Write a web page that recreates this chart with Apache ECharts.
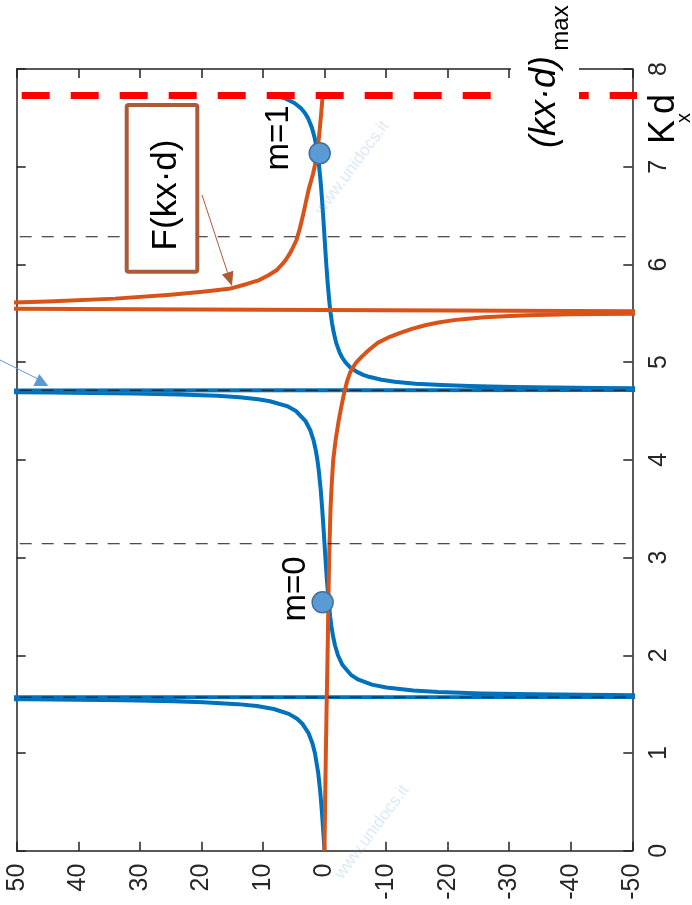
<!DOCTYPE html>
<html><head><meta charset="utf-8">
<script src="https://cdn.jsdelivr.net/npm/echarts@6/dist/echarts.min.js"></script>
<style>html,body{margin:0;padding:0;background:#fff}#c{width:692px;height:905px}</style>
</head><body><div id="c"></div>
<script>
// ---- data ----
// blue curve: tan(kx·d)   (kx·d value, function value)
const blueK = [0,0.2,0.4,0.6,0.8,1.0,1.1,1.2,1.3,1.35,1.4,1.45,1.48,1.5,1.52,1.53,1.54,1.55,1.56,1.565,
  1.577,1.582,1.59,1.6,1.61,1.625,1.64,1.67,1.7,1.75,1.8,1.9,2.0,2.1,2.2,2.3,2.4,2.6,2.8,3.0,3.1416,3.3,3.5,3.7,3.9,4.0,4.1,4.2,4.3,4.4,4.5,4.55,4.6,4.62,4.64,4.655,4.67,4.68,4.69,4.7,4.705,
  4.72,4.725,4.735,4.745,4.755,4.765,4.78,4.8,4.82,4.85,4.87,4.9,4.95,5.0,5.05,5.1,5.2,5.3,5.4,5.5,5.6,5.8,6.0,6.1,6.2832,6.4,6.5,6.6,6.7,6.8,6.9,7.0,7.1,7.2,7.3,7.4,7.5,7.55,7.6,7.65,7.7,7.728];
const blueF = [0,0.203,0.423,0.684,1.03,1.557,1.965,2.572,3.602,4.455,5.798,8.238,10.98,14.1,19.67,24.5,32.5,48.1,92.6,172.5,
  -161,-89.8,-52.1,-34.2,-25.5,-18.5,-14.43,-10.05,-7.7,-5.52,-4.29,-2.93,-2.185,-1.713,-1.374,-1.119,-0.916,-0.602,-0.356,-0.143,0,0.16,0.375,0.625,0.948,1.158,1.423,1.778,2.288,3.109,4.64,6.09,8.86,10.79,13.79,17.4,23.6,30.9,44.6,80.6,135,
  -131.6,-79.4,-44.2,-30.5,-23.5,-19.0,-14.77,-11.39,-9.26,-7.22,-6.29,-5.27,-4.13,-3.38,-2.85,-2.449,-1.887,-1.51,-1.22,-0.996,-0.814,-0.529,-0.291,-0.185,0,0.117,0.22,0.328,0.443,0.568,0.71,0.871,1.065,1.305,1.617,2.049,2.701,3.188,3.852,4.83,6.44,7.89];
// orange curve: F(kx·d)
const orangeK = [0,0.5,1.0,1.5,2.0,2.5,3.0,3.5,3.75,4.0,4.2,4.4,4.55,4.7,4.8,4.9,4.95,5.0,5.05,5.1,5.15,5.2,5.25,5.3,5.34,5.38,5.405,5.43,5.445,5.46,5.47,5.48,5.485,5.49,5.497,5.5,
  5.575,5.6,5.62,5.65,5.69,5.72,5.75,5.8,5.84,5.89,5.94,6.0,6.05,6.1,6.15,6.25,6.37,6.5,6.63,6.76,6.85,6.93,7.03,7.14,7.27,7.4,7.52,7.65,7.728];
const orangeF = [0,-0.1,-0.22,-0.35,-0.5,-0.62,-0.75,-0.98,-1.17,-1.42,-1.8,-2.3,-2.75,-3.25,-3.65,-4.2,-4.65,-5.2,-5.95,-6.8,-7.7,-8.7,-10.3,-12.3,-14.2,-16.5,-18.5,-21,-23.3,-26,-29.2,-33,-36.5,-40,-52,-130,
  160,57,45,34,25,19.8,15.5,12.6,10.6,9.1,7.8,6.9,6.25,5.75,5.3,4.55,4.0,3.5,3.05,2.6,2.2,1.85,1.5,1.2,0.95,0.75,0.57,0.4,0.3];
// reference lines kx·d = π/2, π, 3π/2, 2π
const halfPiK = [1.5708, 3.1416, 4.7124, 6.2832];
// (kx·d)max
const kdMax = 7.728;
const kdMaxSpanF = [50, -51.1];
// solutions (modes)
const modeK = [2.542, 7.138];
const modeF = [0.3, 0.78];
const modeNames = ['m=0', 'm=1'];
// axes
const fRange = [-50, 50], fStep = 10;
const kRange = [0, 8], kStep = 1;

const chart = echarts.init(document.getElementById('c'), null, {renderer: 'canvas'});
const FONT = '"Liberation Sans", Arial, sans-serif';
const AX = '#222';
const pts = (ks, fs) => ks.map((k, i) => [fs[i], k]);

const xBase = {
  type: 'value', min: fRange[0], max: fRange[1], interval: fStep, inverse: true,
  splitLine: {show: false},
  axisLine: {show: true, onZero: false, lineStyle: {color: AX, width: 1.5}},
  axisTick: {show: true, inside: true, length: 9, lineStyle: {color: AX, width: 1.5}}
};
const yBase = {
  type: 'value', min: kRange[0], max: kRange[1], interval: kStep,
  splitLine: {show: false},
  axisLine: {show: true, onZero: false, lineStyle: {color: AX, width: 1.5}},
  axisTick: {show: true, inside: true, length: 9, lineStyle: {color: AX, width: 1.5}}
};

const rot = Math.PI / 2;
const txt = (x, y, text, size, extra) => Object.assign({
  type: 'text', x, y, rotation: rot, z: 120,
  style: Object.assign({text, fontSize: size, fontFamily: FONT, fill: '#000', align: 'center', verticalAlign: 'middle'}, extra || {})
});

const brown = '#AD5A38';
const graphic = [
  // watermarks
  {type: 'text', x: 352, y: 168, rotation: 0.93, z: 60, style: {text: 'www.unidocs.it', fontSize: 17, fontFamily: FONT, fill: 'rgba(91,155,213,0.22)', align: 'center', verticalAlign: 'middle'}},
  {type: 'text', x: 372, y: 832, rotation: 0.93, z: 60, style: {text: 'www.unidocs.it', fontSize: 17, fontFamily: FONT, fill: 'rgba(91,155,213,0.22)', align: 'center', verticalAlign: 'middle'}},
  // white background of (kx·d)max label
  {type: 'rect', z: 100, shape: {x: 511, y: 0, width: 68, height: 152}, style: {fill: '#fff'}},
  txt(545, 102, '(kx·d)', 36, {fontStyle: 'italic'}),
  txt(561, 28, 'max', 24),
  // axis name Kxd
  txt(664, 132, 'K', 36),
  txt(684, 118, 'x', 20),
  txt(664, 104, 'd', 36),
  // F(kx·d) box
  {type: 'rect', z: 110, shape: {x: 126.7, y: 105, width: 70.6, height: 166.7, r: 2}, style: {fill: '#fff', stroke: brown, lineWidth: 4}},
  txt(166.7, 195, 'F(kx·d)', 35),
  {type: 'line', z: 110, shape: {x1: 202, y1: 195, x2: 227.6, y2: 272.7}, style: {stroke: brown, lineWidth: 1}},
  {type: 'polygon', z: 110, shape: {points: [[232, 286], [233.3, 270.8], [221.9, 274.6]]}, style: {fill: brown}},
  // blue arrow (cut at left edge)
  {type: 'line', z: 110, shape: {x1: 0, y1: 360, x2: 38, y2: 379}, style: {stroke: '#5B9BD5', lineWidth: 1}},
  {type: 'polygon', z: 110, shape: {points: [[33.3, 386], [48.3, 386], [39.3, 374]]}, style: {fill: '#5B9BD5'}},
  // mode labels
  txt(296, 589, modeNames[0], 33),
  txt(279, 138, modeNames[1], 33)
];

const series = [
  {type: 'line', data: pts(blueK, blueF), symbol: 'none', showSymbol: false, clip: true, z: 2,
   lineStyle: {color: '#0072BD', width: 4, join: 'round'}},
  {type: 'line', data: pts(orangeK, orangeF), symbol: 'none', showSymbol: false, clip: true, z: 3,
   lineStyle: {color: '#D95319', width: 4, join: 'round'}}
];
halfPiK.forEach(k => series.push({
  type: 'line', data: [[fRange[1], k], [fRange[0], k]], symbol: 'none', clip: true, z: 4,
  lineStyle: {color: '#1a1a1a', width: 1, type: [12, 10], dashOffset: 19}
}));
series.push({
  type: 'line', data: kdMaxSpanF.map(f => [f, kdMax]), symbol: 'none', clip: false, z: 5,
  lineStyle: {color: '#FF0000', width: 7, type: [28, 21], dashOffset: 44, cap: 'butt'}
});
series.push({
  type: 'scatter', data: modeK.map((k, i) => [modeF[i], k]), symbol: 'circle', symbolSize: 21, z: 6,
  itemStyle: {color: '#5B9BD5', borderColor: '#41719C', borderWidth: 1.5, opacity: 1}
});

chart.setOption({
  animation: false,
  backgroundColor: '#fff',
  grid: {left: 16.7, right: 59.7, top: 69, bottom: 54.3, containLabel: false, outerBoundsMode: 'none'},
  xAxis: [
    Object.assign({}, xBase, {position: 'bottom',
      axisLabel: {show: true, rotate: 90, margin: 13, fontSize: 25, fontFamily: FONT, color: '#262626', showMinLabel: true, showMaxLabel: true}}),
    Object.assign({}, xBase, {position: 'top', axisLabel: {show: false}})
  ],
  yAxis: [
    Object.assign({}, yBase, {position: 'right',
      axisLabel: {show: true, rotate: 90, margin: 14, fontSize: 25, fontFamily: FONT, color: '#262626', showMinLabel: true, showMaxLabel: true}}),
    Object.assign({}, yBase, {position: 'left', axisLabel: {show: false}})
  ],
  series,
  graphic
});
</script></body></html>
